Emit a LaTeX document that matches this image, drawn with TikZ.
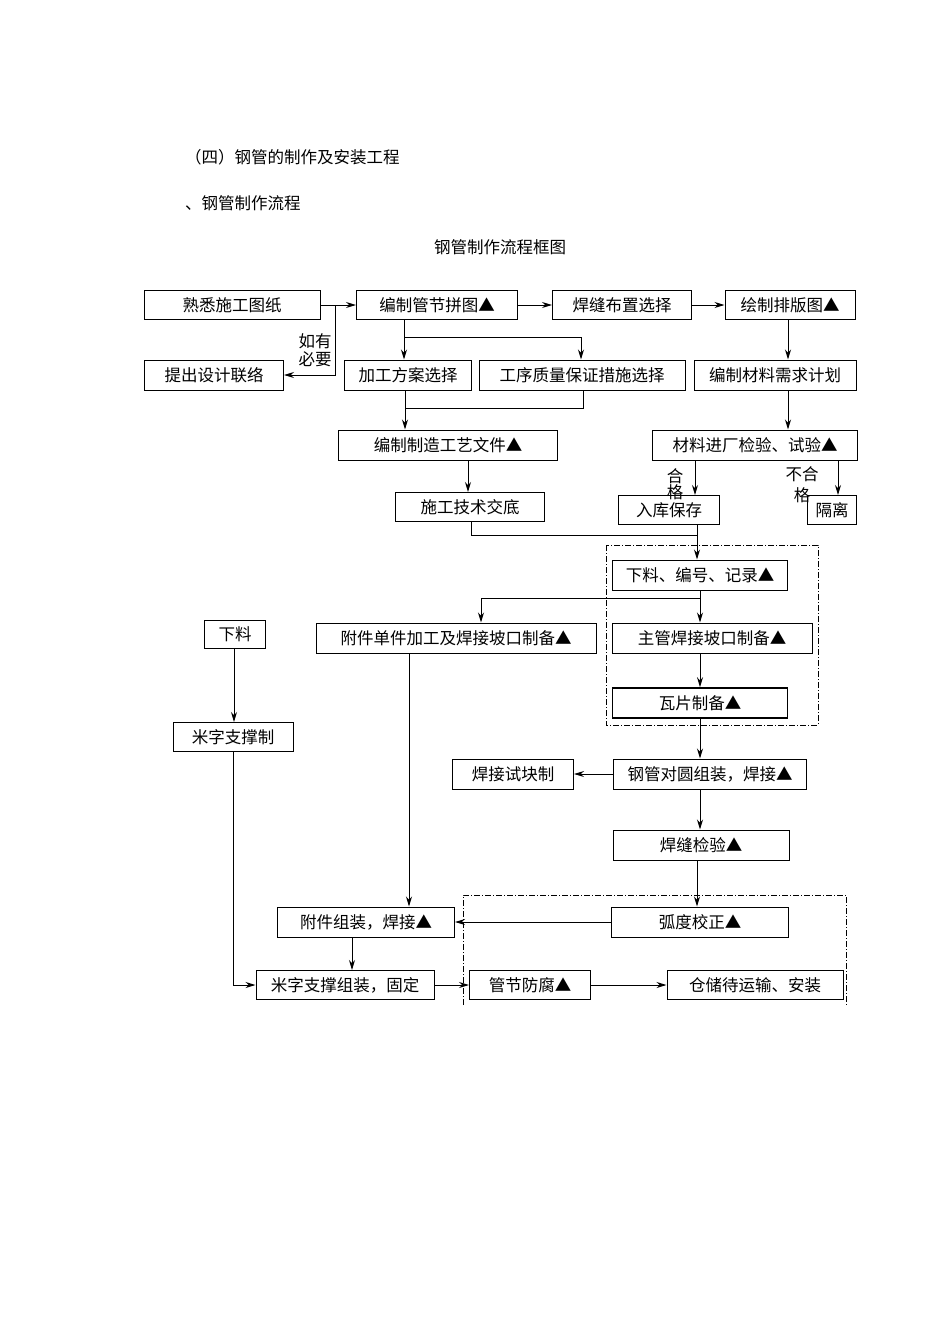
\documentclass[tikz,border=0pt]{standalone}
\usepackage{fontspec}
\setmainfont{Noto Sans CJK SC}
\usetikzlibrary{arrows.meta}
\begin{document}
\begin{tikzpicture}[x=1pt,y=-1pt,
  box/.style={draw,line width=1pt,inner sep=0pt,font=\fontsize{16.5}{18}\selectfont},
  arr/.style={line width=1pt,-{Stealth[length=10pt,width=6pt]}},
  ln/.style={line width=0.8pt},
  dd/.style={line width=0.7pt,dash pattern=on 6pt off 2pt on 1pt off 2pt},
  txt/.style={inner sep=0pt,font=\fontsize{16.5}{18}\selectfont}]
\useasboundingbox (0,0) rectangle (950,1344);
\newcommand{\bx}[5]{\node[box,minimum width=#4,minimum height=#5] (#1) at (#2) {#3};}
\node[txt,anchor=west] (t1) at (185,157) {（四）钢管的制作及安装工程};
\node[txt,anchor=west] (t2) at (185,203) {、钢管制作流程};
\node[txt] (t3) at (500,247) {钢管制作流程框图};
\bx{a}{232,305}{熟悉施工图纸}{176}{29}
\bx{b}{437,305}{编制管节拼图▲}{161}{29}
\bx{c}{622,305}{焊缝布置选择}{139}{29}
\bx{d}{790,305}{绘制排版图▲}{130}{29}
\bx{e}{214,375}{提出设计联络}{139}{30}
\bx{f}{408,375}{加工方案选择}{127}{30}
\bx{g}{582,375}{工序质量保证措施选择}{206}{30}
\bx{h}{775,375}{编制材料需求计划}{162}{30}
\bx{i}{448,445}{编制制造工艺文件▲}{219}{30}
\bx{j}{755,445}{材料进厂检验、试验▲}{205}{30}
\bx{k}{470,507}{施工技术交底}{149}{29}
\bx{l}{669,510}{入库保存}{101}{29}
\bx{m}{832,510}{隔离}{49}{29}
\node[txt,align=center] (yy) at (315,350) {如有\\必要};
\node[txt] (hg1) at (675,476) {合};
\node[txt] (hg2) at (675,492) {格};
\node[txt] (bh1) at (802,474) {不合};
\node[txt] (bh2) at (802,495) {格};
\draw[dd] (606,545) rectangle (818,725);
\draw[dd] (463,1005) -- (463,895) -- (846,895) -- (846,1005);
\bx{n}{700,575}{下料、编号、记录▲}{175}{30}
\bx{o}{456,638}{附件单件加工及焊接坡口制备▲}{280}{30}
\bx{p}{712,638}{主管焊接坡口制备▲}{200}{30}
\node[box,line width=1.6pt,minimum width=175,minimum height=30] (q) at (700,703) {瓦片制备▲};
\bx{r}{235,634}{下料}{61}{28}
\bx{s}{233,737}{米字支撑制}{120}{29}
\bx{t}{513,774}{焊接试块制}{121}{30}
\bx{u}{710,774}{钢管对圆组装，焊接▲}{193}{30}
\bx{v}{701,845}{焊缝检验▲}{176}{30}
\bx{w}{700,922}{弧度校正▲}{177}{30}
\bx{x}{366,922}{附件组装，焊接▲}{177}{30}
\bx{y}{345,985}{米字支撑组装，固定}{178}{29}
\bx{z}{530,985}{管节防腐▲}{121}{29}
\bx{zz}{755,985}{仓储待运输、安装}{176}{29}
% top
\draw[arr] (a) -- (b);
\draw[arr] (b) -- (c);
\draw[arr] (c) -- (d);
\draw[arr] (335,305) -- (335,375) -- (e.east);
\draw[ln] (b.south -| 404,0) -- (404,337) -- (581,337);
\draw[arr] (404,337) -- (f.north -| 404,0);
\draw[arr] (581,337) -- (g.north -| 581,0);
\draw[arr] (f.south -| 405,0) -- (i.north -| 405,0);
\draw[ln] (g.south -| 583,0) -- (583,408) -- (405,408);
\draw[arr] (d.south -| 788,0) -- (h.north -| 788,0);
\draw[arr] (h.south -| 788,0) -- (j.north -| 788,0);
\draw[arr] (i.south -| 468,0) -- (k.north -| 468,0);
\draw[arr] (j.south -| 695,0) -- (l.north -| 695,0);
\draw[arr] (j.south -| 838,0) -- (m.north -| 838,0);
\draw[ln] (k.south -| 471,0) -- (471,535) -- (697,535);
\draw[arr] (l.south -| 697,0) -- (n.north -| 697,0);
% lower
\draw[arr] (n.south -| 700,0) -- (p.north -| 700,0);
\draw[ln] (700,598) -- (481,598);
\draw[arr] (481,598) -- (o.north -| 481,0);
\draw[arr] (p.south -| 700,0) -- (q.north -| 700,0);
\draw[arr] (q.south -| 700,0) -- (u.north -| 700,0);
\draw[arr] (u) -- (t);
\draw[arr] (u.south -| 700,0) -- (v.north -| 700,0);
\draw[arr] (v.south -| 697,0) -- (w.north -| 697,0);
\draw[arr] (w) -- (x);
\draw[arr] (o.south -| 409,0) -- (x.north -| 409,0);
\draw[arr] (r.south -| 234,0) -- (s.north -| 234,0);
\draw[arr] (s.south -| 233,0) -- (233,985) -- (y.west);
\draw[arr] (x.south -| 352,0) -- (y.north -| 352,0);
\draw[arr] (y) -- (z);
\draw[arr] (z) -- (zz);
\end{tikzpicture}
\end{document}
